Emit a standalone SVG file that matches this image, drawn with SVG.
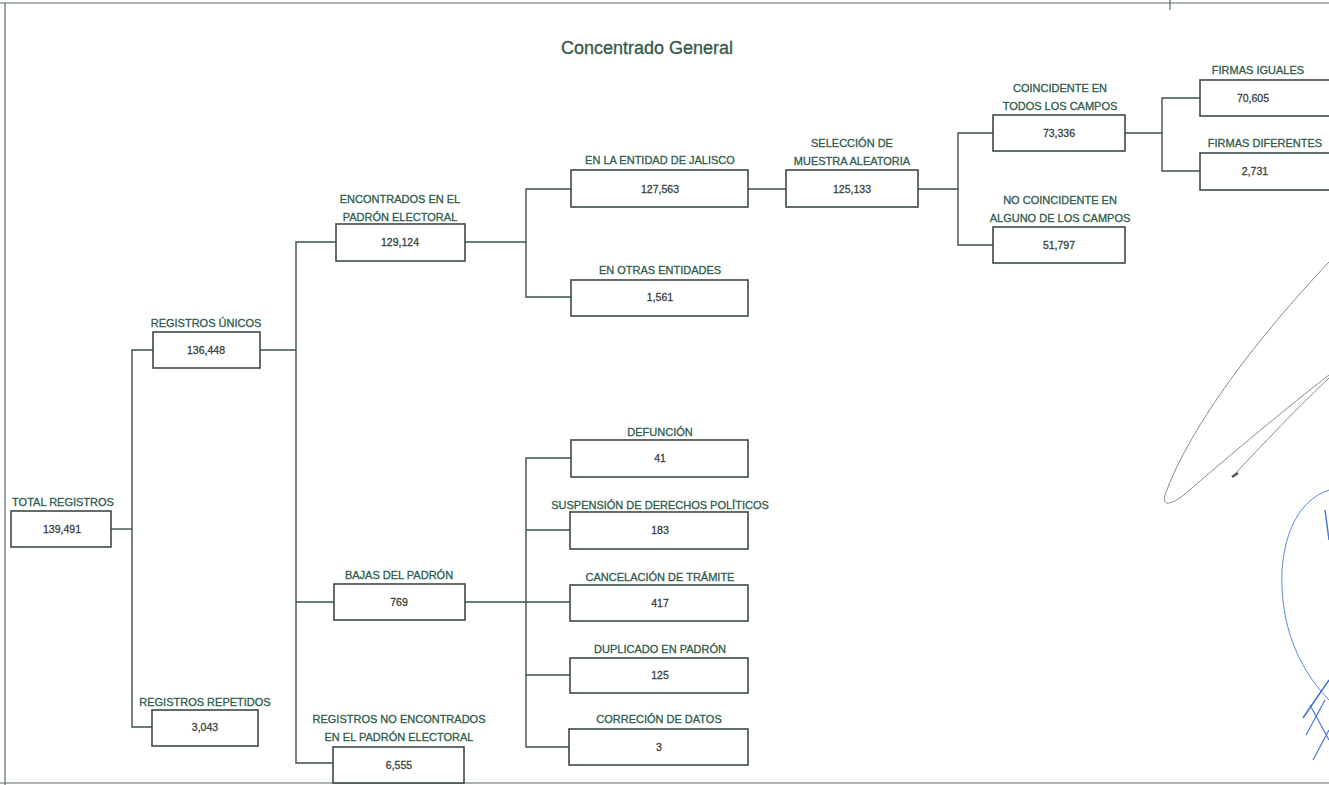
<svg xmlns="http://www.w3.org/2000/svg" width="1329" height="785" viewBox="0 0 1329 785">
<style>
.box{fill:#fff;stroke:#3c4a44;stroke-width:1.6}
.lbl{font-family:"Liberation Sans",Arial,sans-serif;font-size:11px;fill:#2f5c4c;stroke:#2f5c4c;stroke-width:0.3;text-anchor:middle}
.num{font-family:"Liberation Sans",Arial,sans-serif;font-size:10.5px;fill:#3a3f3c;stroke:#3a3f3c;stroke-width:0.3;text-anchor:middle}
.con{fill:none;stroke:#3d5048;stroke-width:1.4}
.frame{fill:none;stroke:#5a6a66;stroke-width:1.2}
.title{font-family:"Liberation Sans",Arial,sans-serif;font-size:18px;fill:#3a5a4c;stroke:#3a5a4c;stroke-width:0.35;text-anchor:middle}
</style>
<rect width="1329" height="785" fill="#fff"/>
<g id="frame">
<line class="frame" x1="0" y1="3" x2="1329" y2="3"/>
<line class="frame" x1="1170" y1="0" x2="1170" y2="10"/>
<line class="frame" x1="5" y1="3" x2="5" y2="785"/>
<line class="frame" x1="0" y1="783" x2="1329" y2="783"/>
</g>
<text class="title" x="647" y="54">Concentrado General</text>
<g id="connectors">
<polyline class="con" points="111,529 132,529"/>
<polyline class="con" points="153,350 132,350 132,727 152,727"/>
<polyline class="con" points="260,350 296,350"/>
<polyline class="con" points="336,242 296,242 296,763 333,763"/>
<polyline class="con" points="296,602 334,602"/>
<polyline class="con" points="465,242 526,242"/>
<polyline class="con" points="571,189 526,189 526,297 571,297"/>
<polyline class="con" points="748,189 786,189"/>
<polyline class="con" points="918,189 958,189"/>
<polyline class="con" points="993,133 958,133 958,245 993,245"/>
<polyline class="con" points="1125,133 1162,133"/>
<polyline class="con" points="1200,98 1162,98 1162,171 1200,171"/>
<polyline class="con" points="465,602 570,602"/>
<polyline class="con" points="571,458 526,458 526,747 569,747"/>
<polyline class="con" points="526,530 570,530"/>
<polyline class="con" points="526,675 570,675"/>
</g>
<g id="total"><rect class="box" x="11" y="511" width="100" height="36"/><text class="lbl" x="63" y="506">TOTAL REGISTROS</text><text class="num" x="62" y="533">139,491</text></g>
<g id="unicos"><rect class="box" x="153" y="332" width="107" height="36"/><text class="lbl" x="206" y="327">REGISTROS ÚNICOS</text><text class="num" x="206" y="354">136,448</text></g>
<g id="repetidos"><rect class="box" x="152" y="710" width="106" height="36"/><text class="lbl" x="205" y="706">REGISTROS REPETIDOS</text><text class="num" x="205" y="731">3,043</text></g>
<g id="encontrados"><rect class="box" x="336" y="224" width="129" height="37"/><text class="lbl" x="400" y="203">ENCONTRADOS EN EL</text><text class="lbl" x="400" y="221">PADRÓN ELECTORAL</text><text class="num" x="400" y="246">129,124</text></g>
<g id="bajas"><rect class="box" x="334" y="584" width="131" height="36"/><text class="lbl" x="399" y="579">BAJAS DEL PADRÓN</text><text class="num" x="399" y="606">769</text></g>
<g id="noencontrados"><rect class="box" x="333" y="747" width="131" height="36"/><text class="lbl" x="399" y="723">REGISTROS NO ENCONTRADOS</text><text class="lbl" x="399" y="741">EN EL PADRÓN ELECTORAL</text><text class="num" x="399" y="769">6,555</text></g>
<g id="jalisco"><rect class="box" x="571" y="170" width="177" height="37"/><text class="lbl" x="660" y="164">EN LA ENTIDAD DE JALISCO</text><text class="num" x="660" y="193">127,563</text></g>
<g id="otras"><rect class="box" x="571" y="280" width="177" height="36"/><text class="lbl" x="660" y="274">EN OTRAS ENTIDADES</text><text class="num" x="660" y="301">1,561</text></g>
<g id="muestra"><rect class="box" x="786" y="170" width="132" height="37"/><text class="lbl" x="852" y="147">SELECCIÓN DE</text><text class="lbl" x="852" y="165">MUESTRA ALEATORIA</text><text class="num" x="852" y="193">125,133</text></g>
<g id="coincidente"><rect class="box" x="993" y="115" width="132" height="36"/><text class="lbl" x="1060" y="92">COINCIDENTE EN</text><text class="lbl" x="1060" y="110">TODOS LOS CAMPOS</text><text class="num" x="1059" y="137">73,336</text></g>
<g id="nocoincidente"><rect class="box" x="993" y="227" width="132" height="36"/><text class="lbl" x="1060" y="204">NO COINCIDENTE EN</text><text class="lbl" x="1060" y="222">ALGUNO DE LOS CAMPOS</text><text class="num" x="1059" y="249">51,797</text></g>
<g id="iguales"><rect class="box" x="1200" y="80" width="140" height="36"/><text class="lbl" x="1258" y="74">FIRMAS IGUALES</text><text class="num" x="1253" y="102">70,605</text></g>
<g id="diferentes"><rect class="box" x="1200" y="153" width="140" height="37"/><text class="lbl" x="1265" y="147">FIRMAS DIFERENTES</text><text class="num" x="1255" y="175">2,731</text></g>
<g id="defuncion"><rect class="box" x="571" y="440" width="177" height="37"/><text class="lbl" x="660" y="436">DEFUNCIÓN</text><text class="num" x="660" y="462">41</text></g>
<g id="suspension"><rect class="box" x="570" y="512" width="178" height="37"/><text class="lbl" x="660" y="509">SUSPENSIÓN DE DERECHOS POLÍTICOS</text><text class="num" x="660" y="534">183</text></g>
<g id="cancelacion"><rect class="box" x="570" y="585" width="178" height="36"/><text class="lbl" x="660" y="581">CANCELACIÓN DE TRÁMITE</text><text class="num" x="660" y="607">417</text></g>
<g id="duplicado"><rect class="box" x="570" y="658" width="178" height="35"/><text class="lbl" x="660" y="653">DUPLICADO EN PADRÓN</text><text class="num" x="660" y="679">125</text></g>
<g id="correcion"><rect class="box" x="569" y="729" width="179" height="36"/><text class="lbl" x="659" y="723">CORRECIÓN DE DATOS</text><text class="num" x="659" y="751">3</text></g>
<g id="signatures" fill="none">
<path d="M1329,262 C1260,335 1190,425 1165,495 C1162,506 1170,506 1185,494 C1230,455 1290,405 1329,375" stroke="#8a8a8a" stroke-width="1"/>
<path d="M1233,476 C1262,445 1300,405 1329,378" stroke="#8a8a8a" stroke-width="1"/>
<path d="M1232,477 L1238,473" stroke="#555" stroke-width="2.5"/>
<path d="M1329,490 C1300,500 1285,530 1282,570 C1280,620 1295,665 1329,700" stroke="#5a8ae0" stroke-width="1"/>
<path d="M1303,718 L1329,680" stroke="#4070e0" stroke-width="1.5"/>
<path d="M1306,735 L1325,700 M1310,705 L1329,740 M1313,760 L1329,730" stroke="#4a78e0" stroke-width="1.2"/>
<path d="M1325,510 L1329,540" stroke="#4a78e0" stroke-width="1.5"/>
</g>
</svg>
